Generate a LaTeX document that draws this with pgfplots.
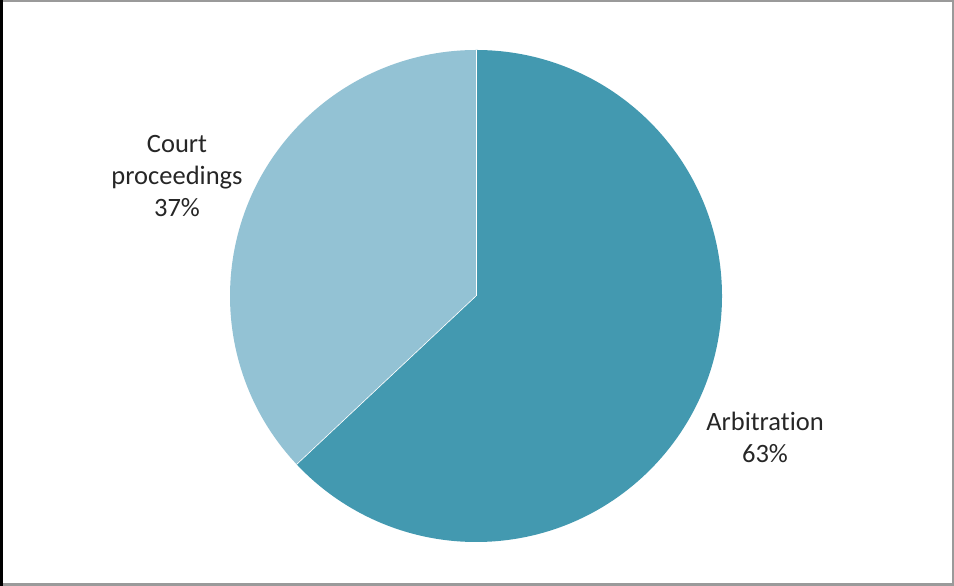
\documentclass[border=0pt]{standalone}
\usepackage{pgfplots}
\usepackage{pgfplotstable}
\pgfplotsset{compat=1.18}
\usepackage{fontspec}
\setmainfont{Carlito}[Ligatures=NoCommon]
\definecolor{arbcol}{HTML}{4399B0}
\definecolor{courtcol}{HTML}{93C2D4}
\definecolor{framecol}{HTML}{9A9A9A}
\pgfplotstableread{
label value
Arbitration 63
Court 37
}\piedata
\begin{document}
\begin{tikzpicture}[x=1bp,y=1bp]
\path[use as bounding box] (0,0) rectangle (954,586);
\begin{axis}[
  at={(0,0)}, anchor=origin,
  x=1bp, y=1bp,
  xmin=0, xmax=954, ymin=0, ymax=586,
  hide axis, clip=false,
]
\pgfplotstablegetelem{0}{value}\of\piedata
\pgfmathsetmacro{\va}{\pgfplotsretval}
\pgfplotstablegetelem{1}{value}\of\piedata
\pgfmathsetmacro{\vb}{\pgfplotsretval}
\pgfmathsetmacro{\enda}{90-3.6*\va}
\pgfmathsetmacro{\endb}{\enda-3.6*\vb}
\fill[arbcol] (axis cs:476,290) -- ++(90:246bp) arc[start angle=90, end angle=\enda, radius=246bp] -- cycle;
\fill[courtcol] (axis cs:476,290) -- ++(\enda:246bp) arc[start angle=\enda, end angle=\endb, radius=246bp] -- cycle;
\draw[white, line width=0.6bp] (axis cs:476,290) -- ++(90:246bp);
\draw[white, line width=0.6bp] (axis cs:476,290) -- ++(\enda:246bp);
\begin{scope}[every node/.style={font=\fontsize{26.5bp}{32bp}\selectfont, text=black!85, anchor=base, inner sep=0pt}]
\node at (axis cs:765,155) {Arbi\kern0pt tration};
\node at (axis cs:765,123) {63\%};
\node at (axis cs:177,433) {Court};
\node at (axis cs:177,401) {proceedings};
\node at (axis cs:177,369) {37\%};
\end{scope}
\end{axis}
\draw[framecol, line width=2.5bp] (1.25,1.25) rectangle (952.75,584.75);
\fill[black] (0,0) rectangle (2.5,586);
\end{tikzpicture}
\end{document}
